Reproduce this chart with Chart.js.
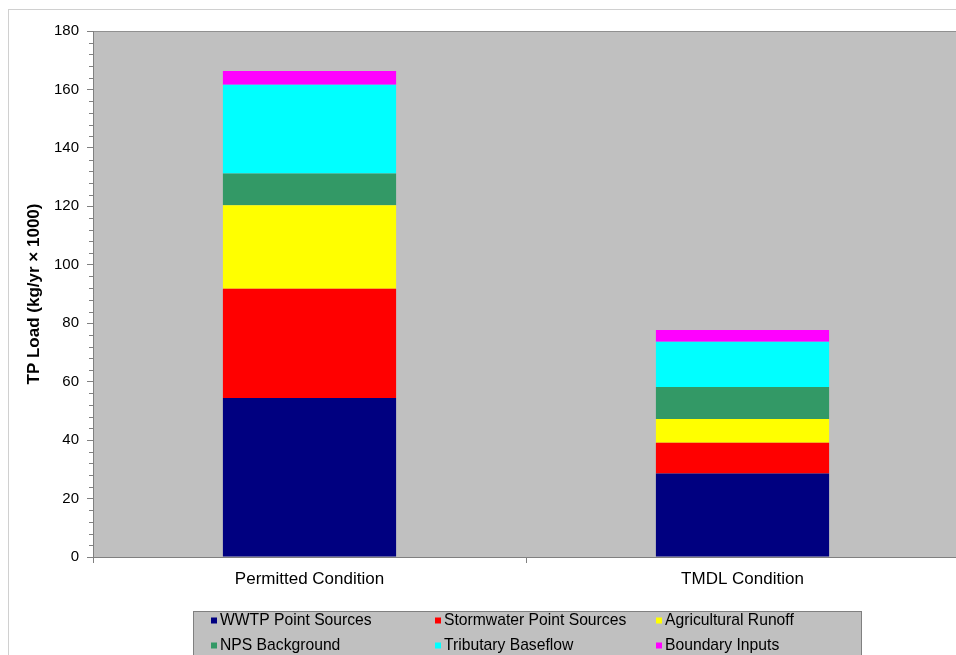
<!DOCTYPE html>
<html>
<head>
<meta charset="utf-8">
<title>TP Load by Source</title>
<script src="https://cdn.jsdelivr.net/npm/chart.js@4.4.1/dist/chart.umd.min.js"></script>
<style>
  html, body { margin: 0; padding: 0; background: #ffffff; overflow: hidden; }
  #wrap { position: relative; width: 970px; height: 700px; }
</style>
</head>
<body>
<div id="wrap"><canvas id="chart" width="970" height="700"></canvas></div>
<script>
// Scenario categories
const conditions = ['Permitted Condition', 'TMDL Condition'];

// Total phosphorus load by source (kg/yr x 1000)
const wwtpPointSources       = [54.4, 28.6];
const stormwaterPointSources = [37.4, 10.5];
const agriculturalRunoff     = [28.6, 8.1];
const npsBackground          = [10.8, 11.0];
const tributaryBaseflow      = [30.4, 15.5];
const boundaryInputs         = [4.7, 4.0];

// Y axis range and ticks
const yMin = 0;
const yMax = 180;
const yMajorStep = 20;
const yMinorStep = 4;

const FONT = "'Liberation Sans', Arial, Helvetica, sans-serif";
Chart.defaults.font.family = FONT;
Chart.defaults.color = '#000000';

// Plot area fill, outer frame and minor ticks on the value axis
const frame = {
  id: 'frame',
  beforeDraw(chart) {
    const { ctx, chartArea: a } = chart;
    ctx.save();
    ctx.fillStyle = '#ffffff';
    ctx.fillRect(0, 0, chart.width, chart.height);
    ctx.strokeStyle = '#d0d0d0';
    ctx.lineWidth = 1;
    ctx.strokeRect(8.5, 9.5, chart.width + 20, chart.height + 20);
    ctx.fillStyle = '#c0c0c0';
    ctx.fillRect(a.left, a.top, a.right - a.left, a.bottom - a.top);
    ctx.strokeStyle = '#909090';
    ctx.strokeRect(a.left + 0.5, a.top + 0.5, a.right - a.left, a.bottom - a.top);
    ctx.restore();
  },
  afterDraw(chart) {
    const { ctx, chartArea: a } = chart;
    const y = chart.scales.y;
    ctx.save();
    ctx.strokeStyle = '#808080';
    ctx.lineWidth = 1;
    for (let v = yMin; v <= yMax; v += yMinorStep) {
      if (v % yMajorStep === 0) continue;
      const py = Math.round(y.getPixelForValue(v)) + 0.5;
      ctx.beginPath();
      ctx.moveTo(a.left - 4, py);
      ctx.lineTo(a.left, py);
      ctx.stroke();
    }
    ctx.restore();
  }
};

// Boxed legend below the chart, three columns by two rows
const boxLegend = {
  id: 'boxLegend',
  afterDraw(chart) {
    const { ctx, chartArea: a } = chart;
    const top = a.bottom + 54.5;
    const left = 193.5;
    const right = 861.5;
    ctx.save();
    ctx.fillStyle = '#c0c0c0';
    ctx.fillRect(left, top, right - left, 80);
    ctx.strokeStyle = '#808080';
    ctx.lineWidth = 1;
    ctx.strokeRect(left, top, right - left, 80);
    ctx.font = '15.7px ' + FONT;
    ctx.textBaseline = 'middle';
    ctx.textAlign = 'left';
    const colX = [211, 435, 656];
    const rowY = [top + 9, top + 34];
    chart.data.datasets.forEach((ds, i) => {
      const cx = colX[i % 3];
      const cy = rowY[Math.floor(i / 3)];
      ctx.fillStyle = ds.backgroundColor;
      ctx.fillRect(cx, cy - 3, 6, 6);
      ctx.fillStyle = '#000000';
      ctx.fillText(ds.label, cx + 9, cy);
    });
    ctx.restore();
  }
};

new Chart(document.getElementById('chart'), {
  type: 'bar',
  data: {
    labels: conditions,
    datasets: [
      { label: 'WWTP Point Sources',       data: wwtpPointSources,       backgroundColor: '#000080' },
      { label: 'Stormwater Point Sources', data: stormwaterPointSources, backgroundColor: '#ff0000' },
      { label: 'Agricultural Runoff',      data: agriculturalRunoff,     backgroundColor: '#ffff00' },
      { label: 'NPS Background',           data: npsBackground,          backgroundColor: '#339966' },
      { label: 'Tributary Baseflow',       data: tributaryBaseflow,      backgroundColor: '#00ffff' },
      { label: 'Boundary Inputs',          data: boundaryInputs,         backgroundColor: '#ff00ff' }
    ]
  },
  options: {
    responsive: false,
    animation: false,
    devicePixelRatio: 1,
    layout: { padding: { left: 0, top: 31, right: 11, bottom: 103 } },
    datasets: { bar: { categoryPercentage: 1.0, barPercentage: 0.4, borderWidth: 0 } },
    plugins: {
      legend: { display: false },
      tooltip: { enabled: false }
    },
    scales: {
      x: {
        stacked: true,
        offset: true,
        grid: { display: true, offset: true, drawOnChartArea: false, drawTicks: true, tickLength: 6, color: '#808080' },
        border: { display: true, color: '#808080' },
        ticks: { font: { size: 17 }, color: '#000000', padding: 6, maxRotation: 0 },
        afterFit(scale) { scale.height = 40; }
      },
      y: {
        stacked: true,
        min: yMin,
        max: yMax,
        grid: { display: true, drawOnChartArea: false, drawTicks: true, tickLength: 6, color: '#808080' },
        border: { display: true, color: '#808080' },
        ticks: { stepSize: yMajorStep, font: { size: 15 }, color: '#000000', padding: 8 },
        title: {
          display: true,
          text: 'TP Load (kg/yr \u00d7 1000)',
          font: { size: 17, weight: 'bold' },
          color: '#000000',
          padding: { top: 24, bottom: 0 }
        },
        afterFit(scale) { scale.width = 93; }
      }
    }
  },
  plugins: [frame, boxLegend]
});
</script>
</body>
</html>
